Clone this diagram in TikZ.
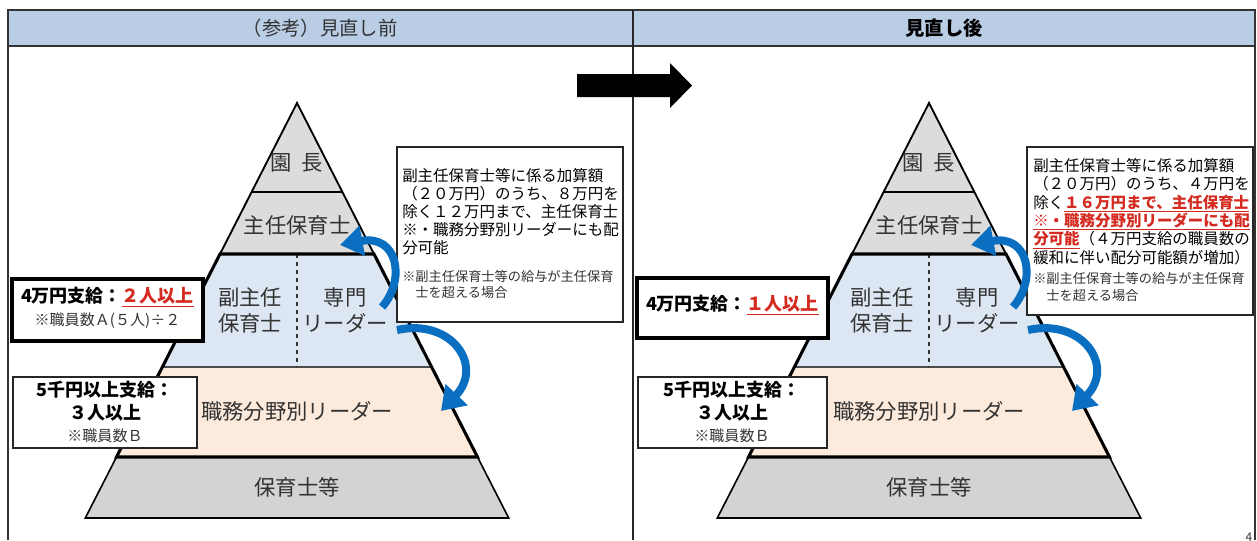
\documentclass[tikz,border=0pt]{standalone}
\usepackage{fontspec}
\setmainfont{Noto Sans CJK JP}
\usetikzlibrary{arrows.meta,calc}
\definecolor{hdr}{HTML}{B9CDE5}
\definecolor{lgray}{HTML}{DCDCDC}
\definecolor{mgray}{HTML}{D3D3D3}
\definecolor{lblue}{HTML}{DDE7F3}
\definecolor{lorange}{HTML}{FCEBDC}
\definecolor{arrblue}{HTML}{0B6FC1}
\definecolor{ured}{HTML}{D42A20}
\definecolor{txt}{HTML}{333333}
\newcommand\redu[1]{\textcolor{ured}{\underline{\textbf{#1}}}}
\tikzset{
  title/.style={inner sep=0, text=txt, font=\fontsize{14.5pt}{16pt}\selectfont},
  lvl/.style={inner sep=0, text=txt, align=center, font=\fontsize{16pt}{19.5pt}\selectfont},
  bigb/.style={inner sep=0, font=\fontsize{13.5pt}{15pt}\selectfont\bfseries},
  smallb/.style={inner sep=0, text=txt, font=\fontsize{11.3pt}{13pt}\selectfont},
  desc/.style={anchor=base west, inner sep=0, font=\fontsize{11.6pt}{13pt}\selectfont},
  note/.style={anchor=base west, inner sep=0, text=txt, font=\fontsize{9.9pt}{11pt}\selectfont},
  thickbox/.style={draw=black, line width=3.4pt, fill=white},
  thinbox/.style={draw=black!85, line width=0.9pt, fill=white},
  bluearr/.style={draw=arrblue, line width=6pt, -{Triangle[length=17pt,width=22pt]}},
}
\begin{document}
\begin{tikzpicture}[x=0.75pt,y=-0.75pt]
\useasboundingbox (0,0) rectangle (1257,540);
% header and frame
\fill[hdr] (8,10) rectangle (1255,46);
\draw[line width=1.1pt, black!80] (8,540) -- (8,10) -- (1255,10) -- (1255,540);
\draw[line width=1.6pt, black!80] (8,46) -- (1255,46);
\draw[line width=1.1pt, black!85] (633,10) -- (633,540);
\node[title] (tL) at (320,28) {（参考）見直し前};
\node[title, font=\fontsize{14.5pt}{16pt}\selectfont\bfseries, text=black] (tR) at (944,28) {見直し後};
% big black arrow
\fill[black] (577,74) -- (670,74) -- (670,63) -- (692,85.5) -- (670,108) -- (670,97) -- (577,97) -- cycle;
% pyramids
\foreach \cx/\s in {297/L,929/R}{
  \fill[lgray] (\cx,103) -- ({\cx+77},254) -- ({\cx-77},254) -- cycle;
  \fill[lblue] ({\cx-77},254) -- ({\cx+77},254) -- ({\cx+134.6},367) -- ({\cx-134.6},367) -- cycle;
  \fill[lorange] ({\cx-134.6},367) -- ({\cx+134.6},367) -- ({\cx+180.5},457) -- ({\cx-180.5},457) -- cycle;
  \draw[line width=1.4pt] ({\cx-77},254) -- (\cx,103) -- ({\cx+77},254);
  \draw[line width=1.3pt] ({\cx-45.4},192) -- ({\cx+45.4},192);
  \draw[line width=0.9pt, black!70] ({\cx-134.6},367) -- ({\cx+134.6},367);
  \draw[line width=0.8pt, dashed, black!80] (\cx,254) -- (\cx,367);
  \fill[mgray] ({\cx-180.5},457) -- ({\cx+180.5},457) -- ({\cx+211.7},518) -- ({\cx-211.7},518) -- cycle;
  \draw[line width=1.2pt] ({\cx+180.5},457) -- ({\cx+211.7},518) -- ({\cx-211.7},518) -- ({\cx-180.5},457);
  \draw[line width=2.3pt, line join=miter] ({\cx-77},254) -- ({\cx+77},254) -- ({\cx+180.5},457) -- ({\cx-180.5},457) -- cycle;
  \node[lvl] (en\s) at (\cx,163) {園\hspace{0.45em}長};
  \node[lvl] (sh\s) at (\cx,225) {主任保育士};
  \node[lvl] (fk\s) at ({\cx-47},310) {副主任\\保育士};
  \node[lvl] (sm\s) at ({\cx+48},310) {専門\\リーダー};
  \node[lvl] (sb\s) at (\cx,411) {職務分野別リーダー};
  \node[lvl] (ht\s) at (\cx,487) {保育士等};
}
% left boxes (before)
\path[thickbox] (12,279) rectangle (203,341);
\node[bigb] (a1) at (107.5,297) {4万円支給：\redu{２人以上}};
\node[smallb] (a2) at (107.5,321) {※職員数Ａ(５人)÷２};
\path[thinbox] (13,377) rectangle (197,448);
\node[bigb] (b1) at (105,390) {5千円以上支給：};
\node[bigb] (b2) at (105,413) {３人以上};
\node[smallb] (b3) at (105,436) {※職員数Ｂ};
% left description box
\path[thinbox] (397,147) rectangle (623,322);
\node[desc] (d1) at (402,181) {副主任保育士等に係る加算額};
\node[desc] (d2) at (402,199) {（２０万円）のうち、８万円を};
\node[desc] (d3) at (402,217) {除く１２万円まで、主任保育士};
\node[desc] (d4) at (402,235) {※・職務分野別リーダーにも配};
\node[desc] (d5) at (402,253) {分可能};
\node[note] (n1) at (402,281) {※副主任保育士等の給与が主任保育};
\node[note] (n2) at (402,297) {　士を超える場合};
% right boxes (after)
\path[thickbox] (637,278) rectangle (828,338);
\node[bigb] (c1) at (732.5,305) {4万円支給：\redu{１人以上}};
\path[thinbox] (638,377) rectangle (827,448);
\node[bigb] (e1) at (732,390) {5千円以上支給：};
\node[bigb] (e2) at (732,413) {３人以上};
\node[smallb] (e3) at (732,436) {※職員数Ｂ};
\path[thinbox] (1027,147) rectangle (1253,315);
\node[desc] (r1) at (1033,171) {副主任保育士等に係る加算額};
\node[desc] (r2) at (1033,189.5) {（２０万円）のうち、４万円を};
\node[desc] (r3) at (1033,208) {除く\redu{１６万円まで、主任保育士}};
\node[desc] (r4) at (1033,226) {\redu{※・職務分野別リーダーにも配}};
\node[desc] (r5) at (1033,244.5) {\redu{分可能}（４万円支給の職員数の};
\node[desc] (r6) at (1033,263) {緩和に伴い配分可能額が増加）};
\node[note] (m1) at (1033,283) {※副主任保育士等の給与が主任保育};
\node[note] (m2) at (1033,300) {　士を超える場合};
% blue curved arrows
\foreach \dx/\s in {0/L,631/R}{
  \coordinate (p1\s) at ({382+\dx},307);
  \coordinate (q1\s) at ({340+\dx},245);
  \coordinate (p2\s) at ({397+\dx},330);
  \coordinate (q2\s) at ({441+\dx},411);
  \draw[bluearr] (p1\s) .. controls ({406+\dx},280) and ({398+\dx},234) .. (q1\s);
  \draw[bluearr] (p2\s) .. controls ({452+\dx},318) and ({484+\dx},366) .. (q2\s);
}
\node[inner sep=0, text=txt, font=\fontsize{9pt}{10pt}\selectfont, anchor=base] (pg) at (1249,541) {4};
\end{tikzpicture}
\end{document}
